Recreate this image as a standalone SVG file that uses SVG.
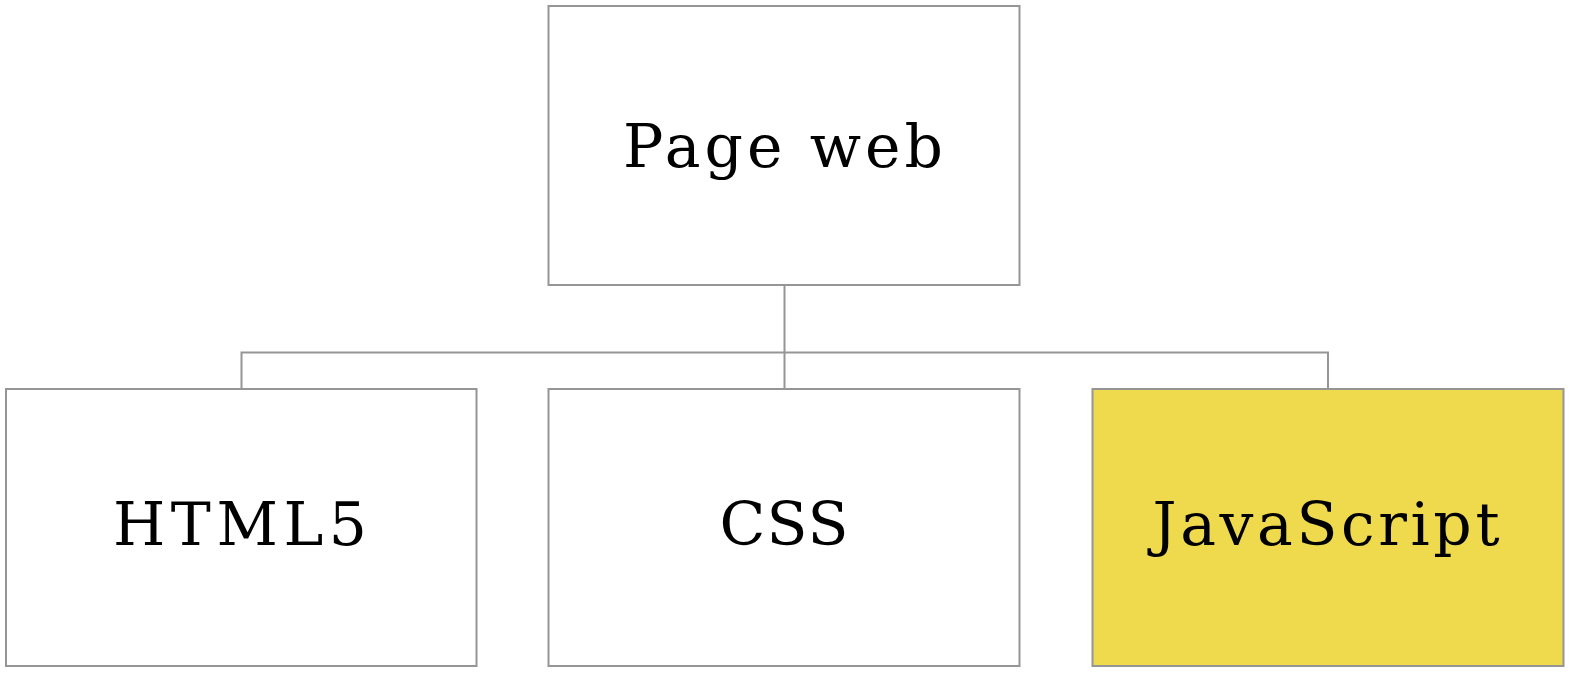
<svg xmlns="http://www.w3.org/2000/svg" width="1570" height="674" viewBox="0 0 1570 674">
<style>
.box{fill:#ffffff;stroke:#959595;stroke-width:2}
.js{fill:#efda4d}
.lbl{font-family:"DejaVu Serif","Liberation Serif",serif;font-size:60px;fill:#000000;text-anchor:middle}
.conn{fill:none;stroke:#959595;stroke-width:2}
</style>
<rect x="0" y="0" width="1570" height="674" fill="#ffffff"/>
<g id="connectors">
<path class="conn" d="M784.5 285V352.5M241.5 389V352.5H1328V389M784.5 352.5V389"/>
</g>
<g id="page-web">
<rect class="box" x="548.5" y="6" width="471" height="279"/>
<text class="lbl" x="783" y="167" textLength="320" lengthAdjust="spacing">Page web</text>
</g>
<g id="html5">
<rect class="box" x="6" y="389" width="470.5" height="277"/>
<text class="lbl" x="240" y="545" textLength="254" lengthAdjust="spacing">HTML5</text>
</g>
<g id="css">
<rect class="box" x="548.5" y="389" width="471" height="277"/>
<text class="lbl" x="784" y="545" textLength="129" lengthAdjust="spacing">CSS</text>
</g>
<g id="javascript">
<rect class="box js" x="1092.5" y="389" width="471" height="277"/>
<text class="lbl" x="1326" y="545" textLength="347" lengthAdjust="spacing">JavaScript</text>
</g>
</svg>
